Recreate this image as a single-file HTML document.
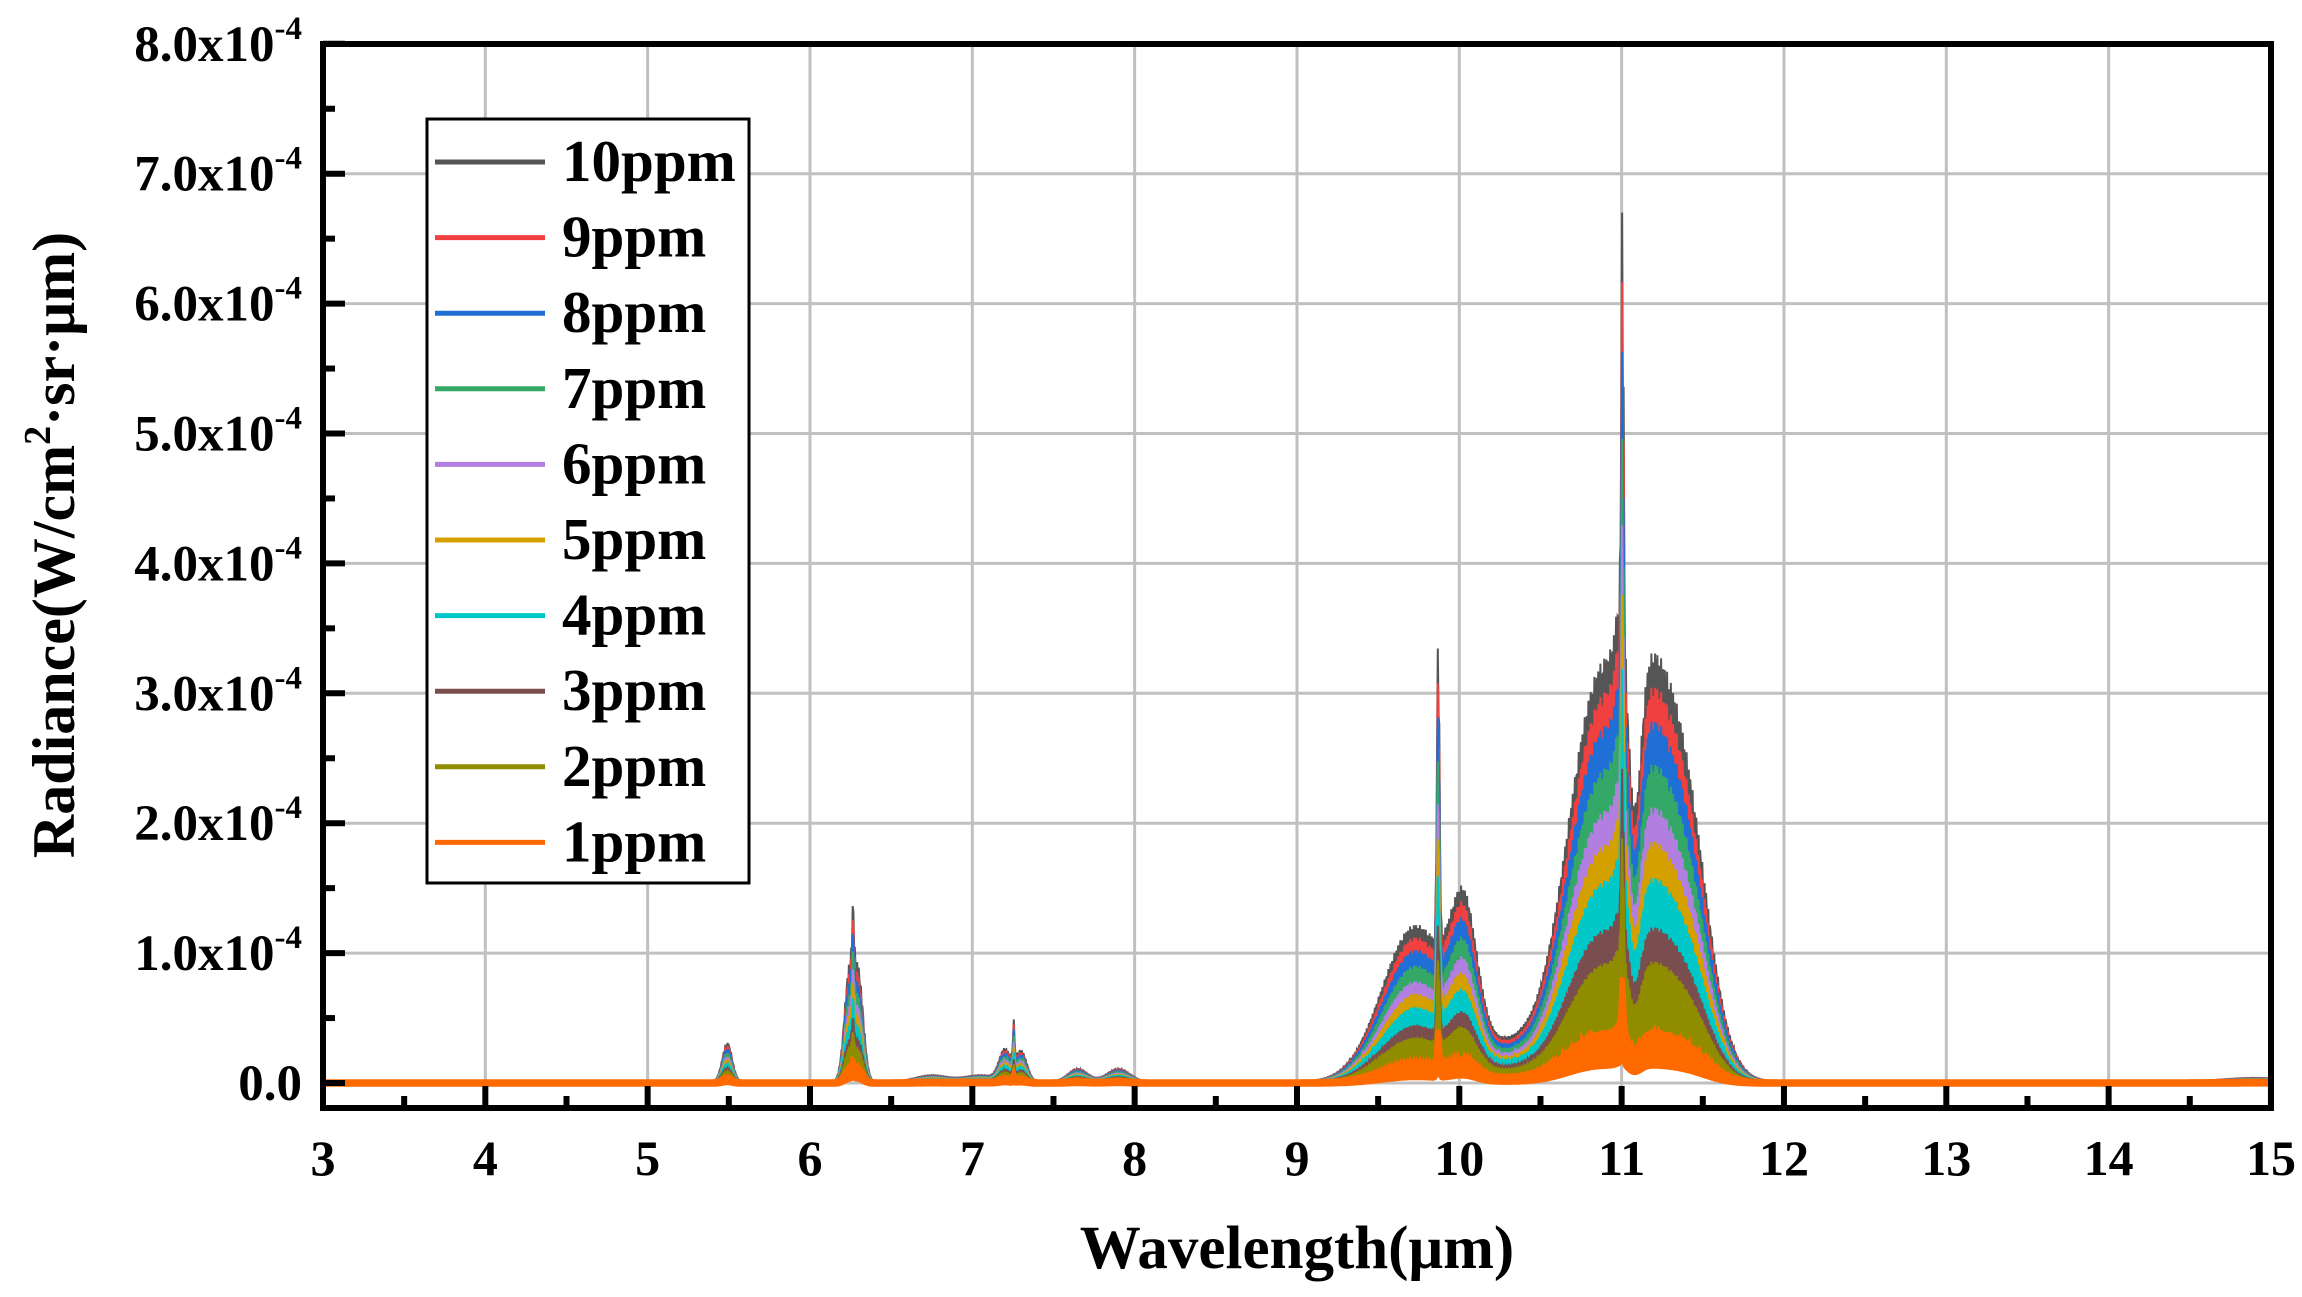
<!DOCTYPE html>
<html><head><meta charset="utf-8"><style>
html,body{margin:0;padding:0;background:#fff;}
svg{display:block;}
text{font-family:"Liberation Serif",serif;font-weight:bold;fill:#000;}
</style></head><body>
<svg id="s" width="2302" height="1297" viewBox="0 0 2302 1297" xmlns="http://www.w3.org/2000/svg">
<defs><clipPath id="c"><rect x="323" y="44" width="1948" height="1064"/></clipPath></defs>
<g id="grid" stroke="#c0c0c0" stroke-width="3"></g>
<g id="data" clip-path="url(#c)"></g>
<g id="ticks" stroke="#000"></g>
<rect x="323" y="44" width="1948" height="1064" fill="none" stroke="#000" stroke-width="6"/>
<g id="labels"></g>
<g id="legend"></g>
<text x="1297" y="1268" font-size="61" text-anchor="middle">Wavelength(μm)</text>
<text transform="translate(74,545) rotate(-90)" font-size="60" text-anchor="middle">Radiance(W/cm<tspan font-size="38" dy="-24">2</tspan><tspan dy="24">·sr·μm)</tspan></text>
</svg>
<script>
var NS="http://www.w3.org/2000/svg";
function el(p,t,a,txt){var e=document.createElementNS(NS,t);for(var k in a)e.setAttribute(k,a[k]);if(txt!==undefined)e.textContent=txt;p.appendChild(e);return e;}
var L=323,R=2271,T=44,B=1108,Y0=1083,PY=129.9,PX=162.33;
function X(w){return L+(w-3)*PX;} function Y(v){return Y0-v*PY;}
var g=document.getElementById('grid'),tk=document.getElementById('ticks'),lb=document.getElementById('labels');
for(var i=4;i<15;i++)el(g,'line',{x1:X(i),x2:X(i),y1:T,y2:B});
for(var j=0;j<8;j++)el(g,'line',{x1:L,x2:R,y1:Y(j),y2:Y(j)});
for(var i=3;i<=15;i++){el(tk,'line',{x1:X(i),x2:X(i),y1:B,y2:B-22,'stroke-width':6});
 el(lb,'text',{x:X(i),y:1175,'font-size':50,'text-anchor':'middle'},String(i));
 if(i<15)el(tk,'line',{x1:X(i+0.5),x2:X(i+0.5),y1:B,y2:B-12,'stroke-width':6});}
for(var j=0;j<=8;j++){el(tk,'line',{x1:L,x2:L+22,y1:Y(j),y2:Y(j),'stroke-width':6});
 if(j<8)el(tk,'line',{x1:L,x2:L+12,y1:Y(j+0.5),y2:Y(j+0.5),'stroke-width':6});
 var t=el(lb,'text',{x:302,y:Y(j)+17,'font-size':51,'text-anchor':'end'});
 if(j==0)t.textContent='0.0';else{t.textContent=j+'.0x10';el(t,'tspan',{'font-size':33,dy:-22},'-4');}}
function gs(x,c,w,h){return h*Math.exp(-Math.pow((x-c)/w,2)/2);}
function base(x){var v=0;
 v+=gs(x,5.49,0.03,0.3);
 v+=gs(x,6.24,0.03,0.8)+gs(x,6.3,0.03,0.78)+gs(x,6.265,0.006,0.45);
 v+=gs(x,6.75,0.1,0.05)+gs(x,7.05,0.1,0.05);
 v+=gs(x,7.2,0.035,0.24)+gs(x,7.3,0.035,0.24)+gs(x,7.255,0.005,0.3);
 v+=gs(x,7.65,0.06,0.1)+gs(x,7.9,0.07,0.1);
 v+=gs(x,9.72,0.2,1.15)+gs(x,10.03,0.08,0.95)+gs(x,10.35,0.35,0.3)+gs(x,9.87,0.008,2.4);
 v+=gs(x,10.83,0.18,2.55)+gs(x,11.22,0.2,2.95)+gs(x,11.45,0.12,0.6)+gs(x,11.005,0.007,3.2)+gs(x,11.0,0.03,0.6);
 v-=gs(x,11.08,0.04,1.2);
 v+=gs(x,14.9,0.2,0.03);
 return Math.max(v,0);}
var sc=[0,0.12,0.28,0.36,0.475,0.56,0.64,0.74,0.84,0.92,1];
var cols=['','#ff6a00','#8f8c00','#7a4e4e','#00c8c8','#d4a000','#b07fe0','#33a867','#1f6fd6','#f04040','#555555'];
var d=document.getElementById('data');
var N=2600;
for(var n=10;n>=1;n--){
 var up=[],lo=[];
 for(var k=0;k<=N;k++){var x=3+12*k/N;var b=base(x);
  var osc=0.8+0.2*Math.abs(Math.sin(x*260));
  var u=b*sc[n]*osc+0.01;var l=b*sc[n]*(n<=2?0.35:0.3)-0.01;
  up.push(X(x).toFixed(1)+','+Y(u).toFixed(1));lo.unshift(X(x).toFixed(1)+','+Y(l).toFixed(1));}
 el(d,'polygon',{points:up.concat(lo).join(' '),fill:cols[n],stroke:cols[n],'stroke-width':(n==1?5:2)});
}
var lg=document.getElementById('legend');
el(lg,'rect',{x:427,y:119,width:322,height:764,fill:'#fff',stroke:'#000','stroke-width':3});
for(var n=10;n>=1;n--){var yy=162+(10-n)*75.6;
 el(lg,'line',{x1:435,x2:545,y1:yy,y2:yy,stroke:cols[n],'stroke-width':5});
 el(lg,'text',{x:562,y:yy+19,'font-size':59},n+'ppm');}
</script>
</body></html>
